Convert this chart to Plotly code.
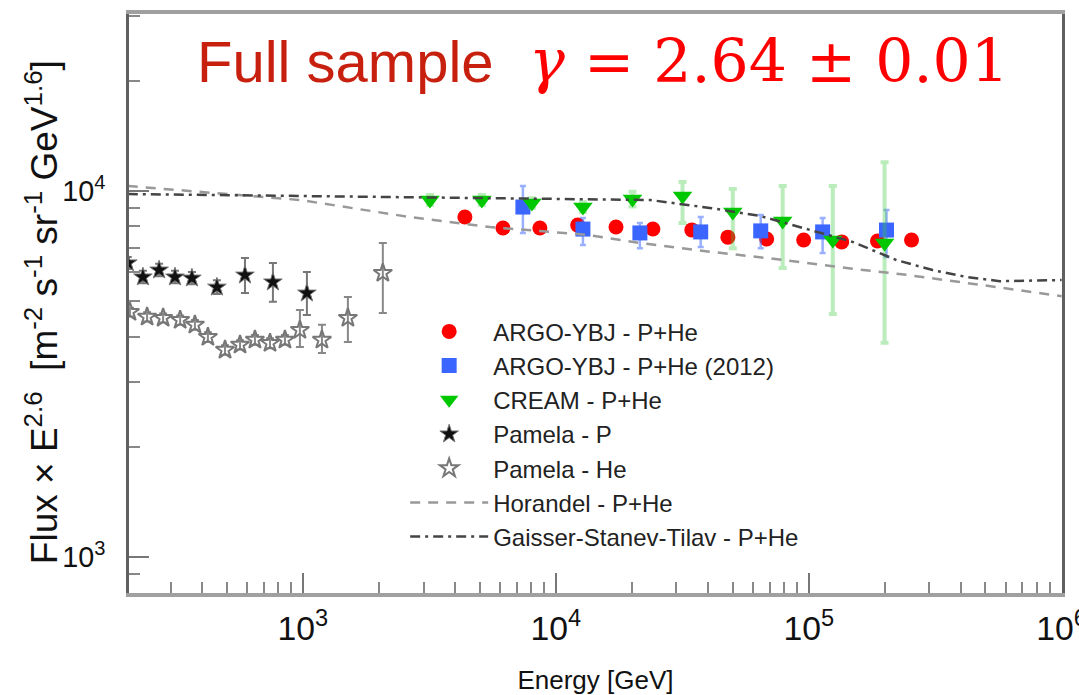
import numpy as np
import plotly.graph_objects as go

# ---------------- data ----------------
argo_E = [4370, 6180, 8650, 12200, 17300, 24200, 34500, 47900, 68200, 95500, 135000, 187000, 255000]
argo_F = [8490, 7920, 7920, 8070, 7970, 7870, 7830, 7480, 7390, 7350, 7260, 7300, 7350]

argo12_E = [7410, 12800, 21500, 37400, 64600, 113500, 203000]
argo12_F = [9040, 7870, 7680, 7730, 7780, 7730, 7820]
argo12_hi = [10320, 8440, 8180, 8490, 8600, 8440, 8870]
argo12_lo = [7680, 7120, 6980, 7030, 6980, 6770, 6600]

cream_E = [3180, 5100, 8040, 12800, 20100, 31700, 50100, 78900, 124500, 199500]
cream_F = [9450, 9450, 9270, 9040, 9510, 9690, 8760, 8280, 7350, 7210]
cream_hi = [9750, 9750, 9560, 9320, 9950, 10580, 10130, 10320, 10320, 11990]
cream_lo = [9150, 9150, 8980, 8760, 9070, 8180, 6980, 6160, 4610, 3850]

pamP_E = [203, 233, 270, 312, 364, 457, 590, 761, 1037]
pamP_F = [6360, 5820, 6080, 5820, 5780, 5460, 5890, 5640, 5260]
pamP_hi = [6600, 6050, 6330, 6050, 6010, 5700, 6560, 6360, 6010]
pamP_lo = [6120, 5600, 5850, 5600, 5560, 5230, 5260, 4980, 4580]

pamHe_E = [207, 242, 280, 327, 374, 421, 492, 564, 646, 741, 849, 973, 1189, 1506, 2070]
pamHe_F = [4670, 4530, 4500, 4440, 4310, 3990, 3680, 3800, 3920, 3840, 3920, 4170, 3920, 4500, 5970]
pamHe_hi = [4800, 4660, 4630, 4570, 4440, 4110, 3790, 3910, 4040, 3960, 4040, 4730, 4310, 5130, 7210]
pamHe_lo = [4540, 4400, 4370, 4310, 4180, 3870, 3570, 3690, 3800, 3720, 3800, 3750, 3610, 3870, 4640]

hor_E = [203, 973, 2650, 5480, 13300, 21500, 41800, 68300, 141000, 244000, 487000, 1000000]
hor_F = [10320, 9450, 8490, 7970, 7590, 7210, 6810, 6560, 6160, 5900, 5530, 5160]

gst_E = [203, 973, 3810, 23600, 40600, 64000, 94600, 149000, 223000, 309000, 421000, 569000, 1000000]
gst_F = [9810, 9690, 9630, 9450, 8990, 8550, 7930, 7260, 6470, 6080, 5820, 5670, 5710]

title_left = "Full sample"
title_right = "<i>γ</i> = 2.64 ± 0.01"
x_title = "Energy [GeV]"
y_title = "Flux × E<sup>2.6</sup>  [m<sup>-2</sup> s<sup>-1</sup> sr<sup>-1</sup> GeV<sup>1.6</sup>]"

SANS = "Liberation Sans, Arial, sans-serif"


def err(F, hi, lo):
    F = np.array(F, float)
    return dict(type="data", symmetric=False,
                array=(np.array(hi, float) - F).tolist(),
                arrayminus=(F - np.array(lo, float)).tolist())


fig = go.Figure()

fig.add_trace(go.Scatter(
    x=argo_E, y=argo_F, mode="markers", name="ARGO-YBJ - P+He",
    legendgroup="a", marker=dict(symbol="circle", size=15, color="#ff0000",
                                 line=dict(width=0))))

e = err(argo12_F, argo12_hi, argo12_lo)
e.update(color="rgba(70,110,255,0.55)", thickness=2.5, width=3)
fig.add_trace(go.Scatter(
    x=argo12_E, y=argo12_F, mode="markers", name="ARGO-YBJ - P+He (2012)",
    legendgroup="b", error_y=e,
    marker=dict(symbol="square", size=15, color="#3a66ff", line=dict(width=0))))

e = err(cream_F, cream_hi, cream_lo)
e.update(color="rgba(60,200,60,0.35)", thickness=4, width=4)
fig.add_trace(go.Scatter(
    x=cream_E, y=cream_F, mode="markers", name="CREAM - P+He",
    legendgroup="c", error_y=e,
    marker=dict(symbol="triangle-down", size=17, color="#00c800", line=dict(width=0))))

e = err(pamP_F, pamP_hi, pamP_lo)
e.update(color="#777777", thickness=2, width=4)
fig.add_trace(go.Scatter(
    x=pamP_E, y=pamP_F, mode="markers", name="Pamela - P",
    legendgroup="d", error_y=e,
    marker=dict(symbol="star", size=14, color="#111111", line=dict(width=1, color="#777"))))

e = err(pamHe_F, pamHe_hi, pamHe_lo)
e.update(color="#888888", thickness=2, width=4)
fig.add_trace(go.Scatter(
    x=pamHe_E, y=pamHe_F, mode="markers", name="Pamela - He",
    legendgroup="e", error_y=e,
    marker=dict(symbol="star-open", size=14, color="#777777", line=dict(width=2))))

fig.add_trace(go.Scatter(
    x=hor_E, y=hor_F, mode="lines", name="Horandel - P+He", legendgroup="f",
    line=dict(color="#999999", width=2.5, dash="10px,8px")))

fig.add_trace(go.Scatter(
    x=gst_E, y=gst_F, mode="lines", name="Gaisser-Stanev-Tilav - P+He", legendgroup="g",
    line=dict(color="#444444", width=2.5, dash="10px,5px,3px,5px")))

axis_common = dict(
    type="log", showgrid=False, zeroline=False, mirror=True, automargin=False,
    ticks="inside", ticklen=20, tickwidth=2, tickcolor="#777",
    dtick=1, exponentformat="power", showexponent="all",
    ticklabeloverflow="allow",
    minor=dict(ticks="inside", ticklen=11, tickwidth=2, tickcolor="#888", dtick="D1"),
)

fig.update_xaxes(**axis_common, range=[2.3123, 6.0015], linecolor="#a0a0a0", linewidth=4,
                 ticklabelstandoff=4,
                 tickfont=dict(family=SANS, size=27, color="#111"),
                 title=dict(text=x_title, font=dict(family=SANS, size=26, color="#111"),
                            standoff=27))
fig.update_yaxes(**axis_common, range=[2.9016, 4.4836], linecolor="#606060", linewidth=3,
                 ticklabelstandoff=16,
                 tickfont=dict(family=SANS, size=23, color="#111"))

# y-axis title (placed as a rotated annotation to sit close to the tick labels)
fig.add_annotation(xref="paper", yref="paper", x=(42 - 129) / 933, y=0.485,
                   xanchor="center", yanchor="middle", textangle=-90,
                   text=y_title, showarrow=False,
                   font=dict(family=SANS, size=37, color="#111"))

fig.add_annotation(xref="paper", yref="paper", x=0.0707, y=0.918, xanchor="left",
                   yanchor="middle", text=title_left, showarrow=False,
                   font=dict(family=SANS, size=58, color="#c8200e"))
fig.add_annotation(xref="paper", yref="paper", x=0.4266, y=0.918, xanchor="left",
                   yanchor="middle", text=title_right, showarrow=False,
                   font=dict(family="DejaVu Serif, Liberation Serif, serif", size=60,
                             color="#ff0000"))

fig.update_layout(
    width=1079, height=695,
    margin=dict(l=129, r=17, t=14, b=102, autoexpand=False),
    paper_bgcolor="white", plot_bgcolor="white",
    showlegend=True,
    legend=dict(x=0.296, y=0.490, xanchor="left", yanchor="top",
                bgcolor="rgba(0,0,0,0)", borderwidth=0,
                font=dict(family=SANS, size=24, color="#222"),
                traceorder="grouped", tracegroupgap=0, itemwidth=78),
)

fig.write_html("out.html")
